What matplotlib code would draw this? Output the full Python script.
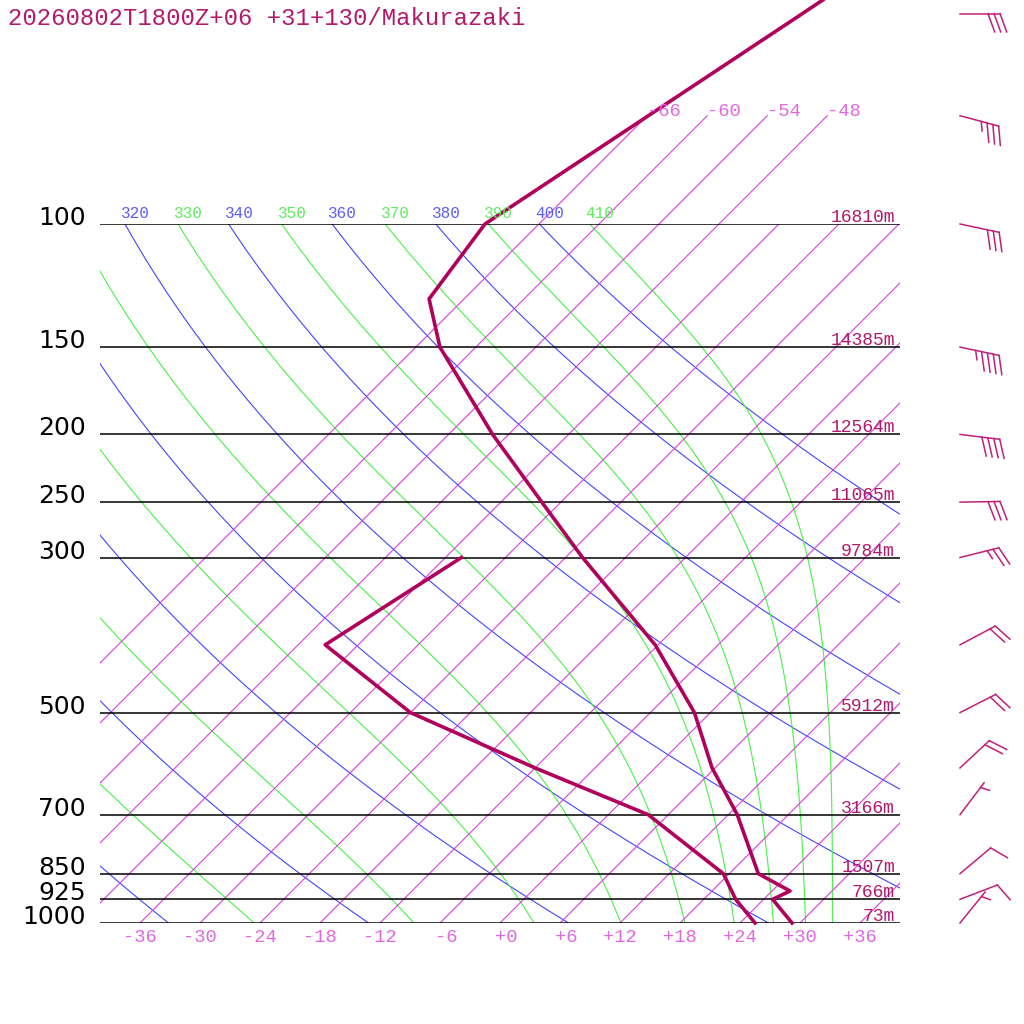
import numpy as np
import matplotlib
matplotlib.use("Agg")
import matplotlib.pyplot as plt
from matplotlib.lines import Line2D
from matplotlib.patches import Rectangle
from matplotlib.transforms import IdentityTransform

title = "20260802T1800Z+06 +31+130/Makurazaki"

# sounding: pressure (hPa) / temperature and dew point (degC)
p_temp = [1000, 925, 900, 850, 700, 600, 500, 400, 300, 250, 200, 150, 128, 100, 50, 30]
temp = [29.2, 24.9, 25.8, 20.9, 12.9, 5.7, -1.6, -12.3, -28.3, -37.9, -49.6, -63.6, -69.5, -71.4, -60.7, -53.0]
p_dew = [1000, 925, 850, 700, 600, 500, 400, 300]
dewp = [25.5, 21.2, 17.4, 4.0, -12.0, -30.0, -45.3, -40.4]

# standard levels and heights (m)
p_std = [1000, 925, 850, 700, 500, 300, 250, 200, 150, 100]
hgt = [73, 766, 1507, 3166, 5912, 9784, 11065, 12564, 14385, 16810]

# wind direction (deg) / speed (kt)
p_wind = [1000, 925, 850, 700, 600, 500, 400, 300, 250, 200, 150, 100, 70, 50]
wdir = [39, 69, 50, 37, 47, 63, 62, 76, 89, 97, 102, 102, 105, 90]
wspd = [5, 10, 10, 5, 20, 20, 20, 25, 30, 40, 45, 30, 35, 30]

isotherms = np.arange(-66, 37, 6)
isotherms_top = [-66, -60, -54, -48]
iso_labels = np.arange(-36, 37, 6)
dry_thetas = np.arange(240, 401, 20)
moist_thetas = np.arange(250, 411, 20)

SKEW = 69.9
C_ISO = "#d840d8"
C_ISO_TXT = "#e266e2"
C_BLUE = "#4444ff"
C_GREEN = "#48f048"
C_SND = "#b0005c"
C_TXT = "#b3186c"
MONO = "Liberation Mono"


def skew(t, p):
    return np.asarray(t) + SKEW * np.log10(1000.0 / np.asarray(p))


def theta_e_sat(tk, p):
    tc = tk - 273.15
    es = 6.112 * np.exp(17.67 * tc / (tc + 243.5))
    r = 622.0 * es / (p - es)
    th = tk * (1000.0 / p) ** (0.2854 * (1 - 0.28e-3 * r))
    return th * np.exp((3.376 / tk - 0.00254) * r * (1 + 0.81e-3 * r))


def moist_temp(the, p):
    lo = np.full_like(p, 150.0)
    hi = np.full_like(p, 330.0)
    for _ in range(60):
        mid = 0.5 * (lo + hi)
        big = theta_e_sat(mid, p) > the
        hi = np.where(big, mid, hi)
        lo = np.where(big, lo, mid)
    return 0.5 * (lo + hi) - 273.15


fig = plt.figure(figsize=(10.24, 10.24), dpi=100)
ax = fig.add_axes([100 / 1024, 101 / 1024, 800 / 1024, 699 / 1024])
ax.set_yscale("log")
ax.set_xlim(-40, 40)
ax.set_ylim(1000, 100)
ax.axis("off")

pp = np.logspace(3, 2, 150)
lbl_clip = Rectangle((97, 0), 2000, 2000, transform=IdentityTransform())


def theta_label(th, t100, color):
    x100 = skew(t100, 100)
    if x100 < -44:  # label would be entirely off the left edge
        return
    tx = ax.annotate(str(th), xy=(x100, 100), xytext=(-4, 6),
                     textcoords="offset pixels", ha="left", va="baseline",
                     color=color, family=MONO, fontsize=11.5, annotation_clip=False)
    tx.set_clip_on(True)
    tx.set_clip_path(lbl_clip)


# dry adiabats
for th in dry_thetas:
    t = th * (pp / 1000.0) ** 0.2857 - 273.15
    ax.plot(skew(t, pp), pp, color=C_BLUE, lw=0.8)
    theta_label(th, t[-1], "#5c5cff")

# moist adiabats
for th in moist_thetas:
    t = moist_temp(th, pp)
    ax.plot(skew(t, pp), pp, color=C_GREEN, lw=0.8)
    theta_label(th, t[-1], "#5cec5c")

# isotherms
for t in isotherms:
    ax.plot(skew([t, t], [1000, 100]), [1000, 100], color=C_ISO, lw=0.8)
for t in isotherms_top:
    ax.plot(skew([t, t], [100, 70]), [100, 70], color=C_ISO, lw=0.8, clip_on=False)
    ax.text(skew(t, 70), 70, f"{t:d}", ha="left", va="baseline", color=C_ISO_TXT,
            family=MONO, fontsize=13.5)
for t in iso_labels:
    ax.annotate(f"{t:+d}", xy=(skew(t, 1000), 1000), xytext=(17, -14),
                textcoords="offset pixels", ha="right", va="center",
                color=C_ISO_TXT, family=MONO, fontsize=13.5)

# pressure levels
ax.hlines(p_std, -40, 40, color="black", lw=1.1)
for p, h in zip(p_std, hgt):
    ax.annotate(str(p), xy=(-40, p), xytext=(-14, -1), textcoords="offset pixels",
                ha="right", va="baseline", fontsize=18, family="DejaVu Sans")
    ax.annotate(f"{h}m", xy=(40, p), xytext=(-5, 2), textcoords="offset pixels",
                ha="right", va="baseline", color=C_TXT, family=MONO, fontsize=13)

# sounding
ax.plot(skew(temp, p_temp), p_temp, color=C_SND, lw=2.6, clip_on=False)
ax.plot(skew(dewp, p_dew), p_dew, color=C_SND, lw=2.6, clip_on=False)

# wind barbs, drawn in pixels at x = 960
staff, full, half, gap = 40.0, 19.5, 9.5, 6.0
for p, d, s in zip(p_wind, wdir, wspd):
    y0 = ax.transData.transform((0, p))[1]
    x0 = 960.0
    a = np.radians(d)
    ux, uy = np.sin(a), np.cos(a)
    b = np.radians(-70)
    fx, fy = np.cos(b) * ux - np.sin(b) * uy, np.sin(b) * ux + np.cos(b) * uy
    tx_, ty_ = x0 + staff * ux, y0 + staff * uy
    segs = [([x0, tx_], [y0, ty_])]
    nfull = s // 10
    pos = 0.0
    for i in range(nfull):
        bx, by = tx_ - pos * ux, ty_ - pos * uy
        segs.append(([bx, bx + full * fx], [by, by + full * fy]))
        pos += gap
    if s % 10 >= 5:
        if nfull == 0:
            pos = gap
        bx, by = tx_ - pos * ux, ty_ - pos * uy
        segs.append(([bx, bx + half * fx], [by, by + half * fy]))
    for xs, ys in segs:
        fig.add_artist(Line2D(xs, ys, transform=IdentityTransform(), color="#c0207a", lw=1.1))

fig.text(8 / 1024, 1 - 25 / 1024, title, ha="left", va="baseline", color=C_TXT,
         family=MONO, fontsize=17.2)

fig.savefig("out.png", dpi=100, facecolor="white")
